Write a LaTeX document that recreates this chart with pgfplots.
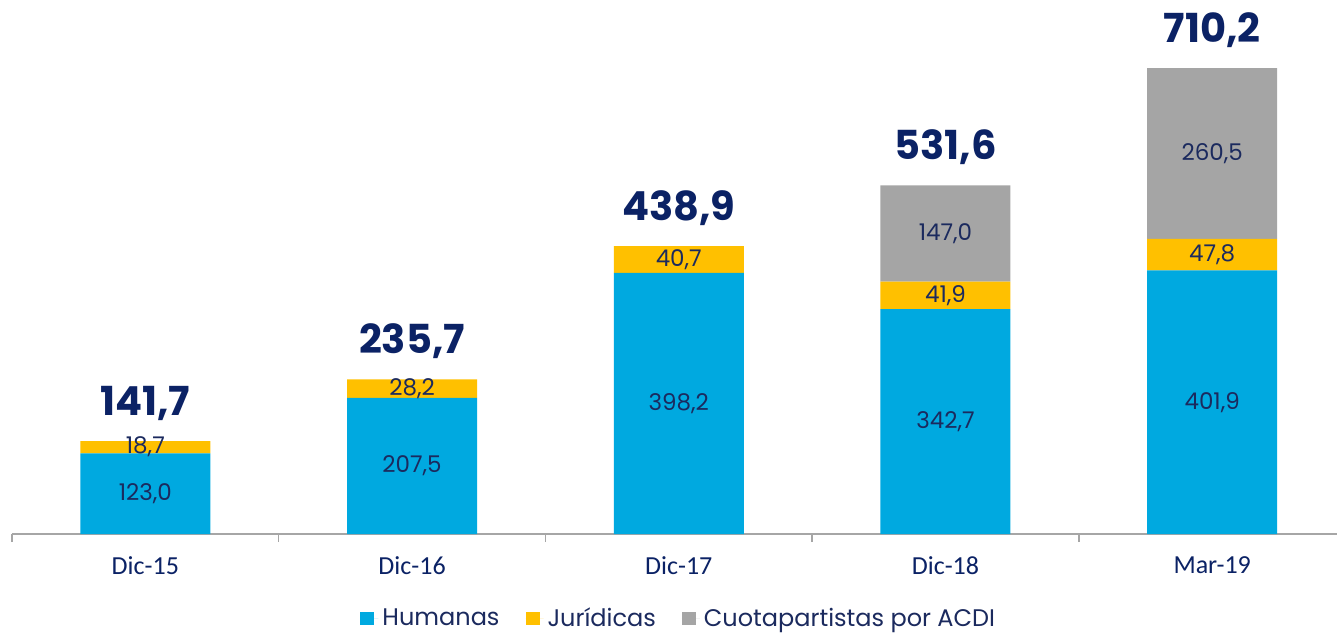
\documentclass[border=0pt]{standalone}
\usepackage{pgfplots}
\pgfplotsset{compat=1.18}
\usepackage{pgfplotstable}
\usepackage{fontspec}
\setmainfont{Poppins}
\newfontfamily\catfont{Carlito}
\definecolor{cBlue}{HTML}{00A9E0}
\definecolor{cYellow}{HTML}{FFC000}
\definecolor{cGray}{HTML}{A5A5A5}
\definecolor{navy}{HTML}{0B2265}
\definecolor{labnavy}{HTML}{1B2A5E}
\definecolor{axisgray}{HTML}{A6A6A6}

\pgfplotstableread{
x hum jur cuo
0 123.0 18.7 0
1 207.5 28.2 0
2 398.2 40.7 0
3 342.7 41.9 147.0
4 401.9 47.8 260.5
}\datatab

\pgfplotstableread{
x y lab
0 61.5 123,0
0 132.35 18,7
1 103.75 207,5
1 221.6 28,2
2 199.1 398,2
2 418.55 40,7
3 171.35 342,7
3 363.65 41,9
3 458.1 147,0
4 200.95 401,9
4 425.8 47,8
4 579.95 260,5
}\labtab

\pgfplotstableread{
x y lab
0 141.7 141,7
1 235.7 235,7
2 438.9 438,9
3 531.6 531,6
4 710.2 710,2
}\tottab

\begin{document}
\begin{tikzpicture}
\begin{axis}[
  scale only axis, width=662.5pt, height=267pt,
  xmin=-0.5, xmax=4.468, ymin=0, ymax=814,
  ybar stacked, bar width=65pt,
  axis y line=none, axis x line*=bottom,
  x axis line style={draw=axisgray, line width=0.75pt},
  xtick={0,1,2,3,4},
  xticklabels={Dic-15,Dic-16,Dic-17,Dic-18,Mar-19},
  minor xtick={-0.5,0.5,1.5,2.5,3.5},
  major tick length=0pt, minor tick length=4pt, tick align=outside,
  minor tick style={draw=axisgray, line width=0.75pt},
  xticklabel style={font=\catfont\fontsize{13}{15}\selectfont, text=navy, yshift=-8pt},
  legend columns=3,
  legend style={draw=none, at={(0.504,-0.158)}, anchor=center,
    font=\fontsize{12}{14}\selectfont, text=labnavy,
    /tikz/every even column/.append style={column sep=11pt}},
  legend image code/.code={\fill[#1] (0pt,-3.2pt) rectangle (7pt,3.3pt);\path (0pt,0pt) -- (9pt,0pt);},
  clip=false,
]
\addplot[fill=cBlue, draw=none] table[x=x,y=hum]{\datatab};
\addplot[fill=cYellow, draw=none] table[x=x,y=jur]{\datatab};
\addplot[fill=cGray, draw=none] table[x=x,y=cuo]{\datatab};
\legend{Humanas,Jurídicas,Cuotapartistas por ACDI}
\coordinate (bl) at (rel axis cs:0,0);
\coordinate (tr) at (rel axis cs:1,1);
\end{axis}
\begin{axis}[
  scale only axis, width=662.5pt, height=267pt,
  xmin=-0.5, xmax=4.468, ymin=0, ymax=814,
  hide axis, clip=false,
]
\addplot[only marks, mark=none, nodes near coords, point meta=explicit symbolic,
  every node near coord/.append style={anchor=center, font=\fontsize{11.5}{13}\selectfont, text=labnavy}]
  table[x=x,y=y,meta=lab]{\labtab};
\addplot[only marks, mark=none, nodes near coords, point meta=explicit symbolic,
  every node near coord/.append style={anchor=base, yshift=13pt, font=\fontsize{20}{24}\selectfont\bfseries, text=navy}]
  table[x=x,y=y,meta=lab]{\tottab};
\end{axis}
\pgfresetboundingbox
\path[use as bounding box] (bl) ++(-6pt,-51pt) rectangle (tr);
\end{tikzpicture}
\end{document}
